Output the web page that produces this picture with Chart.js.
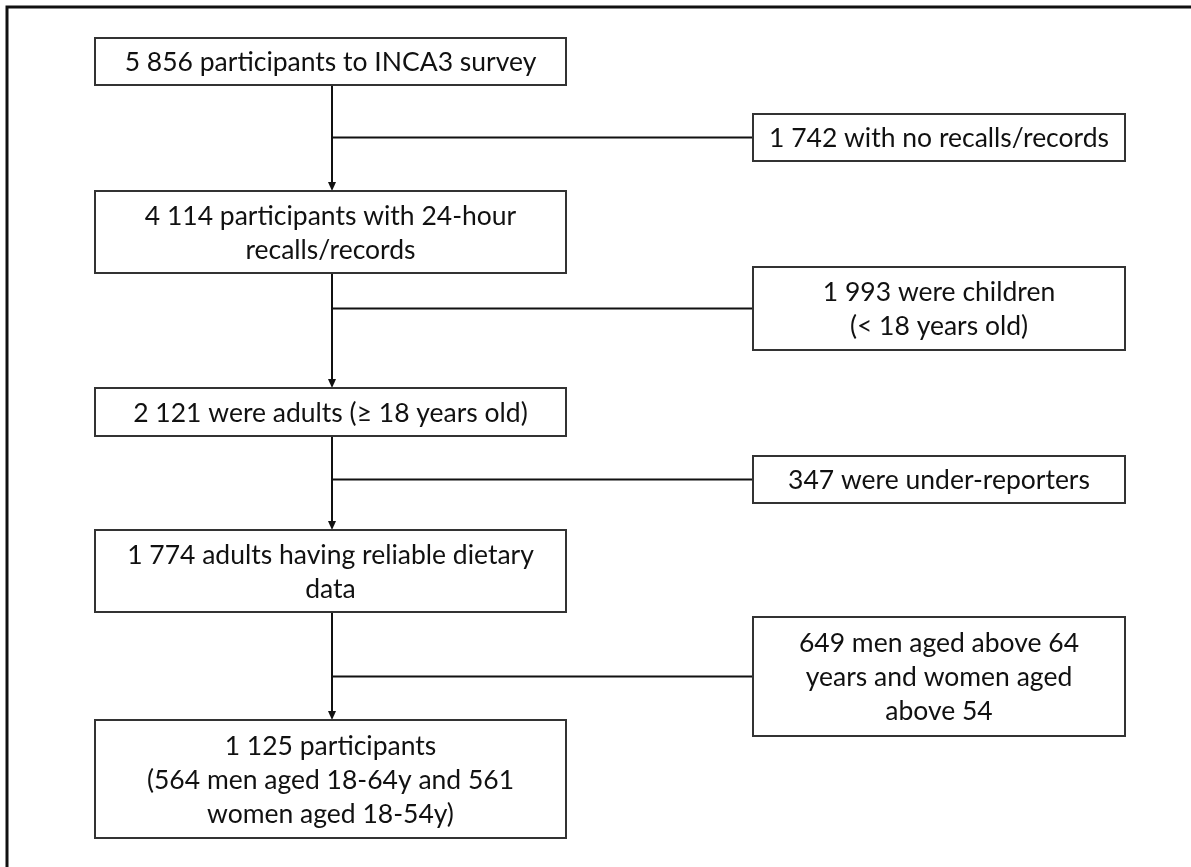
<!DOCTYPE html>
<html>
<head>
<meta charset="utf-8">
<script src="https://cdn.jsdelivr.net/npm/chart.js@4.4.1/dist/chart.umd.min.js"></script>
<style>
  html, body { margin: 0; padding: 0; background: #fff; }
  #wrap { width: 1191px; height: 867px; }
</style>
</head>
<body>
<div id="wrap"><canvas id="flow" width="1191" height="867"></canvas></div>
<script>
// flow steps (left column) and exclusions (right column)
const stepLabels = [
  ["5 856 participants to INCA3 survey"],
  ["4 114 participants with 24-hour", "recalls/records"],
  ["2 121 were adults (\u2265 18 years old)"],
  ["1 774 adults having reliable dietary", "data"],
  ["1 125 participants", "(564 men aged 18-64y and 561", "women aged 18-54y)"]
];
const exclusionLabels = [
  ["1 742 with no recalls/records"],
  ["1 993 were children", "(< 18 years old)"],
  ["347 were under-reporters"],
  ["649 men aged above 64", "years and women aged", "above 54"]
];

// layout in chart units (the scales run 0..1191 / 0..867)
const stepX = [95, 566];
const exclX = [753, 1125];
const stepY = [[38, 85], [191, 273], [388, 436], [530, 612], [720, 838]];
const exclY = [[114, 161], [267, 350], [456, 503], [617, 736]];
const stemX = 332;

const FONT = "26.5px Lato";
const LINE_H = 34;

function drawBox(ctx, x, y, x0, x1, y0, y1, lines) {
  const l = x.getPixelForValue(x0), r = x.getPixelForValue(x1);
  const t = y.getPixelForValue(y0), b = y.getPixelForValue(y1);
  ctx.strokeStyle = "#333";
  ctx.lineWidth = 2;
  ctx.strokeRect(l, t, r - l, b - t);
  ctx.fillStyle = "#111";
  ctx.font = FONT;
  ctx.textAlign = "center";
  ctx.textBaseline = "middle";
  const cx = (l + r) / 2, cy = (t + b) / 2;
  const start = cy - (lines.length - 1) * LINE_H / 2;
  lines.forEach((txt, i) => ctx.fillText(txt, cx, start + i * LINE_H + 1));
}

const flowPlugin = {
  id: "flow",
  afterDraw(chart) {
    const ctx = chart.ctx;
    const x = chart.scales.x, y = chart.scales.y;
    ctx.save();

    // outer frame (only top and left are inside the picture)
    ctx.strokeStyle = "#111";
    ctx.lineWidth = 3;
    ctx.beginPath();
    ctx.moveTo(x.getPixelForValue(7), y.getPixelForValue(880));
    ctx.lineTo(x.getPixelForValue(7), y.getPixelForValue(7));
    ctx.lineTo(x.getPixelForValue(1200), y.getPixelForValue(7));
    ctx.stroke();

    // vertical arrows between steps
    const sx = x.getPixelForValue(stemX);
    ctx.strokeStyle = "#111";
    ctx.fillStyle = "#111";
    ctx.lineWidth = 2;
    for (let i = 0; i < stepY.length - 1; i++) {
      const top = y.getPixelForValue(stepY[i][1]);
      const bot = y.getPixelForValue(stepY[i + 1][0]);
      ctx.beginPath();
      ctx.moveTo(sx, top);
      ctx.lineTo(sx, bot - 8);
      ctx.stroke();
      ctx.beginPath();
      ctx.moveTo(sx - 4, bot - 9);
      ctx.lineTo(sx + 4, bot - 9);
      ctx.lineTo(sx, bot);
      ctx.closePath();
      ctx.fill();
    }

    // branches to exclusion boxes
    exclY.forEach(([y0, y1]) => {
      const by = y.getPixelForValue((y0 + y1) / 2);
      ctx.beginPath();
      ctx.moveTo(sx, by);
      ctx.lineTo(x.getPixelForValue(exclX[0]), by);
      ctx.stroke();
    });

    stepLabels.forEach((lines, i) =>
      drawBox(ctx, x, y, stepX[0], stepX[1], stepY[i][0], stepY[i][1], lines));
    exclusionLabels.forEach((lines, i) =>
      drawBox(ctx, x, y, exclX[0], exclX[1], exclY[i][0], exclY[i][1], lines));

    ctx.restore();
  }
};

new Chart(document.getElementById("flow"), {
  type: "scatter",
  data: { datasets: [{ data: [], pointRadius: 0 }] },
  options: {
    responsive: false,
    animation: false,
    devicePixelRatio: 1,
    layout: { padding: 0 },
    plugins: { legend: { display: false }, tooltip: { enabled: false } },
    scales: {
      x: { type: "linear", min: 0, max: 1191, display: false },
      y: { type: "linear", min: 0, max: 867, reverse: true, display: false }
    }
  },
  plugins: [flowPlugin]
});
</script>
</body>
</html>
